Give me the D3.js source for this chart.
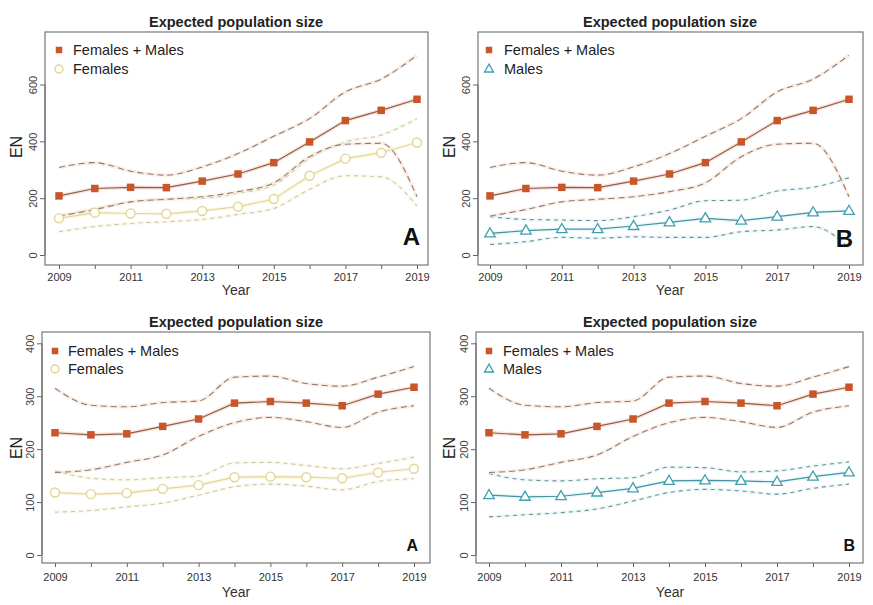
<!DOCTYPE html>
<html>
<head>
<meta charset="utf-8">
<script src="https://cdn.jsdelivr.net/npm/d3@7"></script>
<style>
  html, body { margin: 0; padding: 0; background: #fff; }
  svg { display: block; font-family: "Liberation Sans", Arial, Helvetica, sans-serif; }
</style>
</head>
<body>
<svg id="chart" width="873" height="605"></svg>
<script>
// ---------------- DATA ----------------
const years = [2009, 2010, 2011, 2012, 2013, 2014, 2015, 2016, 2017, 2018, 2019];
const xTickLabels = ["2009", "2011", "2013", "2015", "2017", "2019"];
const yTicksTop = [0, 200, 400, 600];
const yTicksBottom = [0, 100, 200, 300, 400];

// Top row
const topFM      = [208, 234, 238, 237, 260, 285, 325, 398, 473, 509, 548];
const topFMUpper = [308, 325, 295, 281, 310, 357, 418, 480, 574, 619, 703];
const topFMLower = [137, 160, 187, 196, 205, 223, 254, 346, 390, 393, 205];
const topF       = [129, 149, 146, 145, 155, 170, 197, 279, 339, 360, 396];
const topFUpper  = [137, 164, 187, 197, 199, 217, 246, 340, 398, 422, 480];
const topFLower  = [82, 100, 111, 117, 125, 143, 164, 231, 279, 275, 172];
const topM       = [76, 86, 91, 91, 102, 115, 129, 121, 135, 150, 155];
const topMUpper  = [135, 125, 123, 121, 135, 158, 191, 193, 225, 238, 272];
const topMLower  = [37, 47, 62, 59, 64, 62, 62, 82, 88, 100, 25];

// Bottom row
const botFM      = [231, 227, 229, 243, 257, 287, 290, 287, 282, 304, 317];
const botFMUpper = [315, 283, 280, 288, 291, 336, 338, 324, 319, 336, 356];
const botFMLower = [156, 161, 175, 189, 224, 250, 260, 252, 241, 270, 282];
const botF       = [118, 115, 117, 125, 132, 147, 148, 147, 145, 156, 163];
const botFUpper  = [159, 145, 142, 146, 149, 174, 175, 169, 163, 173, 185];
const botFLower  = [81, 84, 91, 98, 113, 129, 134, 130, 123, 139, 144];
const botM       = [113, 110, 111, 118, 126, 140, 141, 140, 138, 148, 156];
const botMUpper  = [154, 142, 140, 144, 146, 166, 165, 157, 159, 168, 176];
const botMLower  = [72, 76, 80, 87, 102, 118, 124, 121, 115, 126, 134];

const legendFM = "Females + Males";
const legendF = "Females";
const legendM = "Males";
const titleText = "Expected population size";

// ---------------- STYLE ----------------
const styles = {
  fm: { marker: "square", fill: "#c9562b", stroke: "#c9562b", line: "#8e5e4c", halo: "#f6d6c4", ci: "#8f7a72", ciHalo: "#f8e2d6" },
  f:  { marker: "circle", fill: "#ffffff", stroke: "#e3d592", line: "#e4d79a", halo: "#faf5dc", ci: "#cbc5a8", ciHalo: "#faf6e2" },
  m:  { marker: "triangle", fill: "#ffffff", stroke: "#3f9fb2", line: "#4493a2", halo: "#d8f3f8", ci: "#728d94", ciHalo: "#e2f5f8" }
};

const panels = [
  { box: [45, 32, 428, 265], x: [59, 417], y: [255, 84.5], ymax: 600, ticks: yTicksTop, title: [236, 27],
    series: [["f", topF, topFUpper, topFLower], ["fm", topFM, topFMUpper, topFMLower]],
    legend: [[59, 50, "fm", legendFM], [59, 69, "f", legendF]], legendX: 73,
    letter: "A", letterPos: [420, 245], letterSize: 24, xlab: [236, 295], ylab: [16, 147], tickY: 281 },
  { box: [478, 32, 863, 265], x: [490, 849], y: [255, 84.5], ymax: 600, ticks: yTicksTop, title: [670, 27],
    series: [["m", topM, topMUpper, topMLower], ["fm", topFM, topFMUpper, topFMLower]],
    legend: [[489, 50, "fm", legendFM], [489, 69, "m", legendM]], legendX: 504,
    letter: "B", letterPos: [853, 247], letterSize: 24, xlab: [670, 295], ylab: [449, 147], tickY: 281 },
  { box: [42, 332, 430, 563], x: [55, 414], y: [555, 343.3], ymax: 400, ticks: yTicksBottom, title: [236, 327],
    series: [["f", botF, botFUpper, botFLower], ["fm", botFM, botFMUpper, botFMLower]],
    legend: [[55, 351, "fm", legendFM], [55, 369, "f", legendF]], legendX: 68,
    letter: "A", letterPos: [418, 551], letterSize: 16, xlab: [236, 597], ylab: [16, 448], tickY: 581 },
  { box: [476, 332, 863, 563], x: [489, 849], y: [555, 343.3], ymax: 400, ticks: yTicksBottom, title: [670, 327],
    series: [["m", botM, botMUpper, botMLower], ["fm", botFM, botFMUpper, botFMLower]],
    legend: [[489, 351, "fm", legendFM], [489, 369, "m", legendM]], legendX: 503,
    letter: "B", letterPos: [855, 551], letterSize: 16, xlab: [670, 597], ylab: [449, 448], tickY: 581 }
];

const svg = d3.select("#chart");

function drawMarker(g, type, cx, cy, st, size) {
  if (type === "square") {
    g.append("rect").attr("x", cx - size / 2).attr("y", cy - size / 2)
      .attr("width", size).attr("height", size).attr("fill", st.fill);
  } else if (type === "circle") {
    g.append("circle").attr("cx", cx).attr("cy", cy).attr("r", size / 2)
      .attr("fill", st.fill).attr("stroke", st.stroke).attr("stroke-width", 1.4);
  } else {
    const h = size * 0.87;
    g.append("path")
      .attr("d", `M${cx},${cy - h * 0.62} L${cx + size / 2},${cy + h * 0.38} L${cx - size / 2},${cy + h * 0.38} Z`)
      .attr("fill", st.fill).attr("stroke", st.stroke).attr("stroke-width", 1.3);
  }
}

panels.forEach(p => {
  const g = svg.append("g");
  const x = d3.scaleLinear().domain([years[0], years[years.length - 1]]).range(p.x);
  const y = d3.scaleLinear().domain([0, p.ymax]).range(p.y);
  const [bx0, by0, bx1, by1] = p.box;

  const clipId = "clip" + Math.random().toString(36).slice(2);
  g.append("clipPath").attr("id", clipId).append("rect")
    .attr("x", bx0).attr("y", by0).attr("width", bx1 - bx0).attr("height", by1 - by0);
  const plot = g.append("g").attr("clip-path", `url(#${clipId})`);

  const smooth = d3.line().x((d, i) => x(years[i])).y(d => y(d)).curve(d3.curveMonotoneX);
  const straight = d3.line().x((d, i) => x(years[i])).y(d => y(d));

  p.series.forEach(([key, mean, up, lo]) => {
    const st = styles[key];
    [up, lo].forEach(ci => {
      plot.append("path").attr("d", smooth(ci)).attr("fill", "none")
        .attr("stroke", st.ciHalo).attr("stroke-width", 3.5).attr("stroke-opacity", 0.6);
      plot.append("path").attr("d", smooth(ci)).attr("fill", "none")
        .attr("stroke", st.ci).attr("stroke-width", 1.1).attr("stroke-dasharray", key === "fm" ? "6,4" : "4,4");
    });
    plot.append("path").attr("d", straight(mean)).attr("fill", "none")
      .attr("stroke", st.halo).attr("stroke-width", 4).attr("stroke-opacity", 0.6);
    plot.append("path").attr("d", straight(mean)).attr("fill", "none")
      .attr("stroke", st.line).attr("stroke-width", 1.2);
  });
  p.series.forEach(([key, mean]) => {
    const st = styles[key];
    mean.forEach((v, i) => drawMarker(plot, st.marker, x(years[i]), y(v), st,
      st.marker === "square" ? 7.5 : st.marker === "circle" ? 9 : 10.5));
  });

  g.append("rect").attr("x", bx0).attr("y", by0).attr("width", bx1 - bx0).attr("height", by1 - by0)
    .attr("fill", "none").attr("stroke", "#777").attr("stroke-width", 1.2);

  const xAxis = d3.axisBottom(x).tickValues(years).tickSize(4).tickPadding(3)
    .tickFormat(d => xTickLabels.includes(String(d)) ? String(d) : "");
  const xg = g.append("g").attr("transform", `translate(0,${by1})`).call(xAxis);
  xg.select(".domain").remove();
  xg.selectAll(".tick line").attr("stroke", "#666");
  xg.selectAll(".tick text").attr("font-size", 11).attr("fill", "#333")
    .attr("y", p.tickY - by1 - 8).attr("dy", "0.71em");

  const yAxis = d3.axisLeft(y).tickValues(p.ticks).tickSize(5).tickPadding(4);
  const yg = g.append("g").attr("transform", `translate(${bx0},0)`).call(yAxis);
  yg.select(".domain").attr("stroke", "#666")
    .attr("d", `M0,${y(p.ticks[0])}V${y(p.ticks[p.ticks.length - 1])}`);
  yg.selectAll(".tick line").attr("stroke", "#666");
  yg.selectAll(".tick text").attr("font-size", 11).attr("fill", "#444")
    .attr("text-anchor", "middle").attr("x", null).attr("dy", null)
    .attr("transform", "translate(-8,0) rotate(-90)");

  g.append("text").attr("x", p.title[0]).attr("y", p.title[1]).attr("text-anchor", "middle")
    .attr("font-size", 14.5).attr("font-weight", "bold").attr("fill", "#222").text(titleText);

  g.append("text").attr("x", p.xlab[0]).attr("y", p.xlab[1]).attr("text-anchor", "middle")
    .attr("font-size", 14).attr("fill", "#333").text("Year");
  g.append("text").attr("transform", `translate(${p.ylab[0] + 6},${p.ylab[1]}) rotate(-90)`)
    .attr("text-anchor", "middle").attr("font-size", 16).attr("fill", "#222").text("EN");

  p.legend.forEach(([lx, ly, key, label]) => {
    const st = styles[key];
    drawMarker(g, st.marker, lx, ly, st, st.marker === "square" ? 6.5 : st.marker === "circle" ? 8 : 9);
    g.append("text").attr("x", p.legendX).attr("y", ly + 5).attr("font-size", 14.5)
      .attr("fill", "#222").text(label);
  });

  g.append("text").attr("x", p.letterPos[0]).attr("y", p.letterPos[1]).attr("text-anchor", "end")
    .attr("font-size", p.letterSize).attr("font-weight", "bold").attr("fill", "#111").text(p.letter);
});
</script>
</body>
</html>
